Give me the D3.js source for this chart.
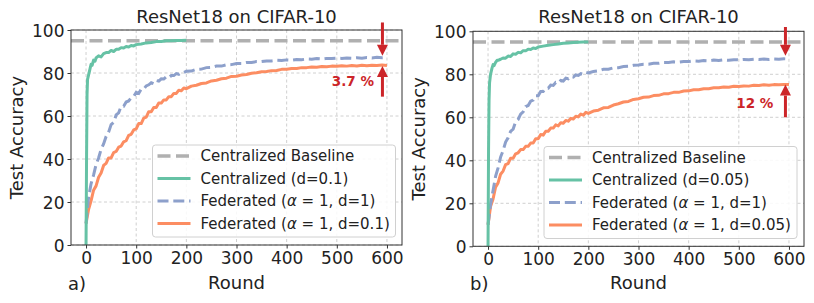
<!DOCTYPE html>
<html>
<head>
<meta charset="utf-8">
<script src="https://cdn.jsdelivr.net/npm/d3@7"></script>
<style>
  body { margin: 0; background: #fff; }
  svg { font-family: "DejaVu Sans", sans-serif; }
</style>
</head>
<body>
<div id="chart"></div>
<script>
// ResNet18 on CIFAR-10: centralized vs federated test accuracy

var baseline = 95;

var centRounds = [0,1,2,3,5,8,10,12,15,18,20,25,30,35,40,45,50,55,60,65,70,75,80,85,90,95,100,
    110,120,130,140,150,160,170,180,190,200];
var centA = [0,40,70,77,79,82,84,83.5,86,85.5,87,88,87.5,89,89.5,89.5,90.5,90,91,91,91.8,91.6,92.3,92.1,92.8,92.6,93.2,
    93.5,94,94.2,94.6,94.7,95,95,95.1,95.1,95.2];
var centB = [0,45,68,76,80,83,84.5,84,85.5,86.5,86.5,87,87.6,87.5,88.5,88.3,89.5,89.3,90.2,90,91,90.9,91.7,91.5,92.2,92,92.7,
    93.1,93.5,93.8,94.1,94.4,94.6,94.8,94.9,95,95];

var fedRounds = [0,5,10,15,20,25,30,35,40,45,50,55,60,65,70,75,80,85,90,95,100,105,110,115,120,125,130,135,140,145,150,
    155,160,165,170,175,180,185,190,195,200,210,220,230,240,250,260,270,280,290,300,310,320,330,340,350,360,370,380,
    390,400,410,420,430,440,450,460,470,480,490,500,510,520,530,540,550,560,570,580,590,600];

// Federated (alpha=1, d=1), panel a
var fedIidA = [10,22,28.5,32.5,37.5,40.5,44.5,47,50.5,52.5,56,57,60.5,61.5,64.5,64.5,66.5,67,68.5,69,71,70.5,72.5,72.5,
    74,74.5,75.5,75,76.5,76.2,77.3,77.2,78.3,77.8,78.8,78.8,79.7,79.4,80.2,80.3,80.8,
    80.9,81.7,81.8,82.5,82.6,83.2,83.2,83.8,83.9,84.4,84.4,84.9,84.9,85.3,85.3,85.6,85.6,85.9,85.8,86.1,
    86,86.3,86.2,86.5,86.4,86.7,86.5,86.8,86.7,86.9,86.8,87,86.9,87.1,86.9,87.2,87,87.3,87.1,87.2];
// Federated (alpha=1, d=0.1), panel a
var fedLowA = [10,16.5,20.5,25.5,27.5,31.5,33.5,37,38,40.5,40.5,43,43.5,45.5,46,48,48.5,51,51.5,53.5,54,56.5,56.5,59,
    59.5,62,62,64,64,66,66,67.5,67.5,69,69,70.5,70.5,72,71.7,73,72.7,
    73.9,74.3,75.1,75.4,76.3,76.6,77.3,77.6,78.4,78.5,79.1,79.3,79.9,80.1,80.6,80.7,81.1,81.2,81.7,81.7,
    82.1,82.1,82.5,82.5,82.8,82.7,83,82.9,83.2,83.1,83.4,83.2,83.5,83.3,83.6,83.4,83.6,83.5,83.7,83.5];
// Federated (alpha=1, d=1), panel b
var fedIidB = [10,19.5,26,32.5,36.5,41.5,44.5,48.5,50.5,53.5,54.5,58,59,61.5,62.5,65,65.5,67.5,68,70,70,72,72,73.5,
    73.5,75,74.8,76.2,75.9,77.2,76.9,78.2,77.9,79,78.7,79.7,79.5,80.3,80,80.9,80.6,
    81.3,81.6,82.3,82.4,83,83.1,83.6,83.7,84.2,84.3,84.7,84.7,85.1,85.1,85.5,85.5,85.8,85.7,86,85.9,
    86.2,86.1,86.4,86.3,86.6,86.4,86.7,86.5,86.8,86.7,86.9,86.8,87,86.9,87.1,86.9,87.1,87,87.2,87.1];
// Federated (alpha=1, d=0.05), panel b
var fedLowB = [10,18.5,22,27.5,29.5,33.5,35,38,38.5,41,41,43,43.5,45,45,46.5,46.5,48,48,50,50,52,51.7,53.5,
    53.5,55,55,56.5,56,57.5,57.2,58.5,58.2,59.5,59.2,60.5,60.2,61.5,61,62.3,61.8,
    62.9,63.3,64.4,64.6,65.7,66.3,67.1,67.4,68.3,68.6,69.3,69.4,70.1,70.2,70.9,71,71.6,71.6,72.2,72.3,
    72.8,72.8,73.3,73.3,73.7,73.7,74.1,74,74.4,74.3,74.6,74.5,74.9,74.8,75.1,74.9,75.2,75.1,75.3,75.2];

var xTicks = [0,100,200,300,400,500,600];
var yTicks = [0,20,40,60,80,100];

var colors = {base: "#b0b0b0", cent: "#66c2a5", iid: "#8da0cb", low: "#fc8d62", red: "#cc2529"};

var svg = d3.select("#chart")
    .append("svg")
    .attr("width", 814)
    .attr("height", 303);

function drawPanel(p) {
    var x = d3.scaleLinear().domain([-30, 630]).range([p.left, p.right]);
    var y = d3.scaleLinear().domain([0, 100]).range([p.bottom, p.top]);
    var g = svg.append("g");

    // grid
    g.append("g").selectAll("line").data(xTicks).enter().append("line")
        .attr("x1", d => x(d)).attr("x2", d => x(d))
        .attr("y1", p.top).attr("y2", p.bottom)
        .attr("stroke", "#c4c4c4").attr("stroke-width", 0.8).attr("stroke-dasharray", "3,2.5");
    g.append("g").selectAll("line").data(yTicks).enter().append("line")
        .attr("x1", p.left).attr("x2", p.right)
        .attr("y1", d => y(d)).attr("y2", d => y(d))
        .attr("stroke", "#c4c4c4").attr("stroke-width", 0.8).attr("stroke-dasharray", "3,2.5");

    // axes
    var xAxis = d3.axisBottom(x).tickValues(xTicks).tickSize(3.5).tickPadding(3);
    var yAxis = d3.axisLeft(y).tickValues(yTicks).tickSize(3.5).tickPadding(3);
    var gx = g.append("g").attr("transform", `translate(0,${p.bottom})`).call(xAxis);
    var gy = g.append("g").attr("transform", `translate(${p.left},0)`).call(yAxis);
    [gx, gy].forEach(function(a) {
        a.select(".domain").remove();
        a.selectAll("line").attr("stroke", "#333");
        a.selectAll("text").attr("font-size", 17).attr("fill", "#222")
            .attr("font-family", "DejaVu Sans");
    });
    gy.selectAll("text").attr("dy", "0.36em");

    var line = d3.line().x(d => x(d[0])).y(d => y(d[1]));

    // baseline
    g.append("path")
        .attr("d", line([[-30, baseline], [630, baseline]]))
        .attr("fill", "none").attr("stroke", colors.base)
        .attr("stroke-width", 3.5).attr("stroke-dasharray", "13,5.5");

    g.append("path")
        .attr("d", line(d3.zip(fedRounds, p.low)))
        .attr("fill", "none").attr("stroke", colors.low)
        .attr("stroke-width", 3).attr("stroke-linejoin", "round");
    g.append("path")
        .attr("d", line(d3.zip(fedRounds, p.iid)))
        .attr("fill", "none").attr("stroke", colors.iid)
        .attr("stroke-width", 3).attr("stroke-dasharray", "11,4.8");
    g.append("path")
        .attr("d", line(d3.zip(centRounds, p.cent)))
        .attr("fill", "none").attr("stroke", colors.cent)
        .attr("stroke-width", 3).attr("stroke-linejoin", "round");

    // frame
    g.append("rect")
        .attr("x", p.left).attr("y", p.top)
        .attr("width", p.right - p.left).attr("height", p.bottom - p.top)
        .attr("fill", "none").attr("stroke", "#333").attr("stroke-width", 1);

    // arrows showing the gap
    function arrow(ax, y0, y1) {
        var tipY = y(y1);
        var dir = y(y0) < tipY ? -1 : 1; // head base sits back toward the tail
        var baseY = tipY + dir * 11;
        g.append("line")
            .attr("x1", x(ax)).attr("x2", x(ax))
            .attr("y1", y(y0)).attr("y2", baseY)
            .attr("stroke", colors.red).attr("stroke-width", 3);
        g.append("path")
            .attr("d", `M${x(ax) - 5.5},${baseY}L${x(ax) + 5.5},${baseY}L${x(ax)},${tipY}Z`)
            .attr("fill", colors.red);
    }
    arrow(p.arrowX, p.down[0], p.down[1]);
    arrow(p.arrowX, p.up[0], p.up[1]);

    g.append("text")
        .attr("x", x(p.gapPos[0])).attr("y", y(p.gapPos[1]))
        .attr("text-anchor", "middle").attr("dy", "0.36em")
        .attr("font-size", 13.5).attr("font-weight", "bold")
        .attr("fill", colors.red)
        .text(p.gap);

    // title and labels
    g.append("text")
        .attr("x", (p.left + p.right) / 2).attr("y", 23)
        .attr("text-anchor", "middle").attr("font-size", 18).attr("fill", "#222")
        .text("ResNet18 on CIFAR-10");
    g.append("text")
        .attr("transform", `translate(${p.left - 48},${(p.top + p.bottom) / 2}) rotate(-90)`)
        .attr("text-anchor", "middle").attr("font-size", 18).attr("fill", "#222")
        .text("Test Accuracy");
    g.append("text")
        .attr("x", (p.left + p.right) / 2).attr("y", 289)
        .attr("text-anchor", "middle").attr("font-size", 18).attr("fill", "#222")
        .text("Round");
    g.append("text")
        .attr("x", p.left - 3).attr("y", 290)
        .attr("font-size", 18).attr("fill", "#222")
        .text(p.tag);

    // legend
    var lg = g.append("g").attr("transform", `translate(${p.legX},${p.legY})`);
    lg.append("rect")
        .attr("width", p.legW).attr("height", 92).attr("rx", 3)
        .attr("fill", "#fff").attr("fill-opacity", 0.85)
        .attr("stroke", "#d0d0d0").attr("stroke-width", 1);
    var items = [
        {label: "Centralized Baseline", color: colors.base, dash: "13,5.5", w: 3.5},
        {label: p.centLabel, color: colors.cent, dash: null, w: 3},
        {label: "d=1)", color: colors.iid, dash: "11,4.8", w: 3, fed: true},
        {label: p.lowLabel, color: colors.low, dash: null, w: 3, fed: true}
    ];
    items.forEach(function(it, i) {
        var cy = 11 + i * 22.5;
        lg.append("line")
            .attr("x1", 5).attr("x2", 38).attr("y1", cy).attr("y2", cy)
            .attr("stroke", it.color).attr("stroke-width", it.w)
            .attr("stroke-dasharray", it.dash);
        var t = lg.append("text")
            .attr("x", 48).attr("y", cy).attr("dy", "0.36em")
            .attr("font-size", 15).attr("fill", "#222");
        if (it.fed) {
            t.append("tspan").text("Federated (");
            t.append("tspan").attr("font-style", "italic").text("\u03b1");
            t.append("tspan").text(" = 1, " + it.label);
        } else {
            t.text(it.label);
        }
    });
}

drawPanel({
    left: 71, right: 402, top: 30, bottom: 245, tag: "a)",
    cent: centA, iid: fedIidA, low: fedLowA,
    centLabel: "Centralized (d=0.1)", lowLabel: "d=0.1)",
    arrowX: 591, down: [103.5, 88], up: [69, 83.3],
    gap: "3.7 %", gapPos: [532, 76],
    legX: 152.5, legY: 145, legW: 243
});

drawPanel({
    left: 473, right: 804, top: 31.3, bottom: 246.3, tag: "b)",
    cent: centB, iid: fedIidB, low: fedLowB,
    centLabel: "Centralized (d=0.05)", lowLabel: "d=0.05)",
    arrowX: 593, down: [102, 88.6], up: [60, 75.2],
    gap: "12 %", gapPos: [532, 66.5],
    legX: 544, legY: 146.5, legW: 253
});
</script>
</body>
</html>
